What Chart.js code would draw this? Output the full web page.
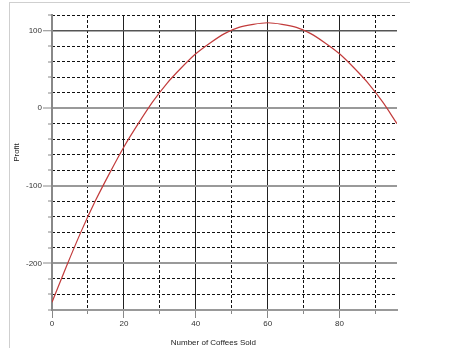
<!DOCTYPE html>
<html>
<head>
<meta charset="utf-8">
<script src="https://cdn.jsdelivr.net/npm/chart.js@4"></script>
<style>
  html, body { margin:0; padding:0; background:#fff; }
  #wrap { position:relative; width:453px; height:348px; overflow:hidden; }
  #frame { position:absolute; left:9px; top:2px; width:401px; height:346px; border-left:1px solid #cfcfcf; border-top:1px solid #cfcfcf; box-sizing:border-box; }
  canvas { position:absolute; left:0; top:0; }
</style>
</head>
<body>
<div id="wrap">
  <div id="frame"></div>
  <canvas id="c" width="453" height="348"></canvas>
</div>
<script>
// Values
const coffeesSold = [0, 4, 8, 12, 16, 20, 24, 28, 32, 36, 40, 44, 48, 52, 56, 60, 64, 68, 72, 76, 80, 84, 88, 92, 96];
const profit      = [-250, -204, -160, -120, -84, -50, -20, 8, 32, 52, 70, 84, 96, 104, 108, 110, 108, 104, 96, 84, 70, 52, 32, 8, -20];

const xMajorTicks = [0, 20, 40, 60, 80];
const xMinorTicks = [10, 30, 50, 70, 90];
const yMajorTicks = [-200, -100, 0, 100];
const yMinorTicks = [-260, -240, -220, -180, -160, -140, -120, -80, -60, -40, -20, 20, 40, 60, 80, 120];

const FONT = "'Liberation Sans', Arial, sans-serif";
const clear = 'rgba(0,0,0,0)';
const pad = n => ' '.repeat(n);

new Chart(document.getElementById('c'), {
  type: 'line',
  data: {
    datasets: [{
      data: coffeesSold.map((x, i) => ({ x: x, y: profit[i] })),
      borderColor: '#c23b3b',
      borderWidth: 1.2,
      pointRadius: 0,
      fill: false,
      cubicInterpolationMode: 'monotone'
    }]
  },
  options: {
    responsive: false,
    animation: false,
    devicePixelRatio: 1,
    layout: { padding: { top: 15, right: 56, left: 0, bottom: 0 } },
    plugins: { legend: { display: false }, tooltip: { enabled: false } },
    scales: {
      x: {
        type: 'linear', position: 'bottom', min: 0, max: 96,
        afterBuildTicks: s => { s.ticks = [...xMajorTicks, ...xMinorTicks].sort((a, b) => a - b).map(v => ({ value: v })); },
        afterFit: s => { s.height = 38; },
        ticks: {
          autoSkip: false, maxRotation: 0, padding: 1, color: '#333',
          font: { family: FONT, size: 8 },
          callback: v => xMajorTicks.includes(v) ? String(v) : ''
        },
        grid: {
          drawTicks: true, tickLength: 8, lineWidth: 1,
          color: ctx => (ctx.tick && ctx.tick.value !== 0 && xMajorTicks.includes(ctx.tick.value)) ? '#222' : clear,
          tickColor: '#888', tickWidth: 1,
          tickBorderDash: ctx => (ctx.tick && xMinorTicks.includes(ctx.tick.value)) ? [3, 100] : []
        },
        border: { color: '#999', width: 2 },
        title: { display: true, text: 'Number of Coffees Sold' + pad(10), color: '#222', font: { family: FONT, size: 8 }, padding: { top: 0, bottom: 0 } }
      },
      x2: {
        type: 'linear', position: 'top', min: 0, max: 96,
        afterBuildTicks: s => { s.ticks = xMinorTicks.map(v => ({ value: v })); },
        ticks: { display: false },
        grid: { drawTicks: false, color: '#111', lineWidth: 1 },
        border: { display: false, dash: [3, 2] }
      },
      y: {
        type: 'linear', position: 'left', min: -260, max: 120,
        afterBuildTicks: s => { s.ticks = [...yMajorTicks, ...yMinorTicks].sort((a, b) => a - b).map(v => ({ value: v })); },
        afterFit: s => { s.width = 52; },
        ticks: {
          autoSkip: false, padding: 1, color: '#333',
          font: { family: FONT, size: 8 },
          callback: v => yMajorTicks.includes(v) ? String(v) : ''
        },
        grid: {
          drawTicks: true, tickLength: 9,
          color: ctx => {
            if (!ctx.tick) return clear;
            if (ctx.tick.value === 100) return '#555';
            return yMajorTicks.includes(ctx.tick.value) ? '#999' : clear;
          },
          lineWidth: ctx => (ctx.tick && ctx.tick.value === 100) ? 1.5 : 2,
          tickColor: '#888', tickWidth: 1,
          tickBorderDash: ctx => (ctx.tick && yMinorTicks.includes(ctx.tick.value)) ? [0, 5, 3, 100] : []
        },
        border: { color: '#888', width: 2 },
        title: { display: true, text: pad(9) + 'Profit', color: '#222', font: { family: FONT, size: 8 }, padding: { top: 12, bottom: 0 } }
      },
      y2: {
        type: 'linear', position: 'right', min: -260, max: 120,
        afterBuildTicks: s => { s.ticks = yMinorTicks.filter(v => v !== -260).map(v => ({ value: v })); },
        ticks: { display: false },
        grid: { drawTicks: false, color: '#111', lineWidth: 1 },
        border: { display: false, dash: [3, 2] }
      }
    }
  }
});
</script>
</body>
</html>
